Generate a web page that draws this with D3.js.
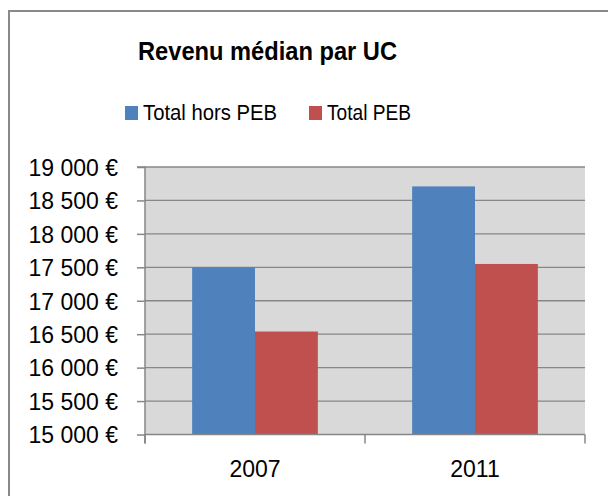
<!DOCTYPE html>
<html>
<head>
<meta charset="utf-8">
<script src="https://cdn.jsdelivr.net/npm/d3@7"></script>
<style>
  html, body { margin: 0; padding: 0; background: #fff; }
  svg { display: block; }
  text { font-family: "Liberation Sans", Arial, sans-serif; fill: #000; }
</style>
</head>
<body>
<svg id="chart" width="608" height="496"></svg>
<script>
// Revenu médian par unité de consommation
const categories = ["2007", "2011"];
const seriesNames = ["Total hors PEB", "Total PEB"];
const seriesColors = ["#4f81bd", "#c0504d"];
const totalHorsPEB = [17500, 18710];
const totalPEB = [16540, 17550];
const yTicks = [15000, 15500, 16000, 16500, 17000, 17500, 18000, 18500, 19000];

const seriesValues = [totalHorsPEB, totalPEB];

const svg = d3.select("#chart");
const W = 608, H = 496;
const plot = { left: 145, right: 585, top: 167, bottom: 434.5 };

// Outer chart frame (runs off the right and bottom edges)
svg.append("rect")
  .attr("x", 9).attr("y", 11)
  .attr("width", W + 10).attr("height", H + 10)
  .attr("fill", "#fff")
  .attr("stroke", "#898989").attr("stroke-width", 2);

// Title
svg.append("text")
  .attr("x", 138).attr("y", 60)
  .attr("textLength", 259).attr("lengthAdjust", "spacingAndGlyphs")
  .style("font-weight", "bold")
  .style("font-size", "25.5px")
  .text("Revenu médian par UC");

// Legend
const legendItems = [
  { name: seriesNames[0], color: seriesColors[0], x: 125, w: 134 },
  { name: seriesNames[1], color: seriesColors[1], x: 309, w: 84 }
];
const lg = svg.append("g").selectAll("g").data(legendItems).join("g")
  .attr("transform", d => `translate(${d.x},0)`);
lg.append("rect")
  .attr("x", 0).attr("y", 106)
  .attr("width", 13).attr("height", 14)
  .attr("fill", d => d.color);
lg.append("text")
  .attr("x", 18).attr("y", 120)
  .attr("textLength", d => d.w).attr("lengthAdjust", "spacingAndGlyphs")
  .style("font-size", "21.5px")
  .text(d => d.name);

// Scales
const x0 = d3.scaleBand().domain(categories).range([plot.left, plot.right]).paddingInner(0).paddingOuter(0);
const barW = x0.bandwidth() / (seriesNames.length + 1.5);
const y = d3.scaleLinear().domain([15000, 19000]).range([plot.bottom, plot.top]);

// Plot background
svg.append("rect")
  .attr("x", plot.left).attr("y", plot.top)
  .attr("width", plot.right - plot.left).attr("height", plot.bottom - plot.top)
  .attr("fill", "#d9d9d9");

// Gridlines
svg.append("g").selectAll("line").data(yTicks.filter(v => v > 15000)).join("line")
  .attr("x1", plot.left).attr("x2", plot.right)
  .attr("y1", d => y(d)).attr("y2", d => y(d))
  .attr("stroke", "#878787").attr("stroke-width", 1.3);

// Bars
const groups = svg.append("g").selectAll("g").data(categories).join("g");
groups.selectAll("rect")
  .data((c, ci) => seriesValues.map((vals, si) => ({ si, v: vals[ci], c })))
  .join("rect")
  .attr("x", d => x0(d.c) + 0.75 * barW + d.si * barW)
  .attr("width", barW)
  .attr("y", d => y(d.v))
  .attr("height", d => y(15000) - y(d.v))
  .attr("fill", d => seriesColors[d.si]);

// Y axis
const fmt = v => d3.format(",")(v).replace(",", " ") + " €";
const yAxis = d3.axisLeft(y).tickValues(yTicks).tickSize(8).tickPadding(19).tickFormat(fmt);
const gy = svg.append("g").attr("transform", `translate(${plot.left},0)`).call(yAxis);
gy.select(".domain").attr("stroke", "#868686").attr("stroke-width", 1.5).attr("d", `M-8,${plot.top}H0V${plot.bottom + 9}`);
gy.selectAll(".tick line").attr("stroke", "#868686").attr("stroke-width", 1.5);
gy.selectAll(".tick text").style("font-size", "23px").style("font-family", "'Liberation Sans', Arial, sans-serif").attr("fill", "#000").attr("dy", "0.36em");

// X axis
const gx = svg.append("g").attr("transform", `translate(0,${plot.bottom})`);
gx.append("line")
  .attr("x1", plot.left).attr("x2", plot.right)
  .attr("stroke", "#868686").attr("stroke-width", 1.5);
const xBounds = [plot.left, ...categories.map(c => x0(c) + x0.bandwidth())];
gx.selectAll("line.tick").data(xBounds).join("line")
  .attr("class", "tick")
  .attr("x1", d => d).attr("x2", d => d)
  .attr("y1", 0).attr("y2", 9)
  .attr("stroke", "#868686").attr("stroke-width", 1.5);
gx.selectAll("text").data(categories).join("text")
  .attr("x", d => x0(d) + x0.bandwidth() / 2)
  .attr("y", 42)
  .attr("text-anchor", "middle")
  .style("font-size", "23px")
  .text(d => d);
</script>
</body>
</html>
